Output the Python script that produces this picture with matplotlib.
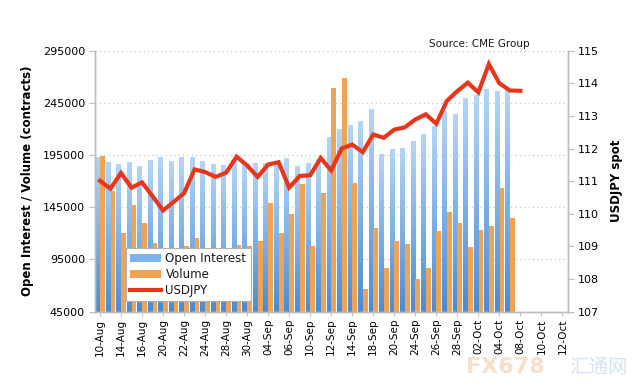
import matplotlib
matplotlib.use('Agg')
import matplotlib.pyplot as plt
import numpy as np
from matplotlib.colors import LinearSegmentedColormap
from matplotlib.patches import Patch
from matplotlib.lines import Line2D

# Colours
BLUE_TOP = '#b4d5f8'
BLUE_BOTTOM = '#4a8cd6'
ORANGE = '#f1a355'
RED = '#e8351b'
AXIS_GREY = '#bdbdbd'
GRID_GREY = '#c8c8c8'
TEXT = '#1a1a1a'

# Trading days (Labor day skipped), every one is a category
dates = ['10-Aug', '13-Aug', '14-Aug', '15-Aug', '16-Aug', '17-Aug',
         '20-Aug', '21-Aug', '22-Aug', '23-Aug', '24-Aug',
         '27-Aug', '28-Aug', '29-Aug', '30-Aug', '31-Aug',
         '04-Sep', '05-Sep', '06-Sep', '07-Sep',
         '10-Sep', '11-Sep', '12-Sep', '13-Sep', '14-Sep',
         '17-Sep', '18-Sep', '19-Sep', '20-Sep', '21-Sep',
         '24-Sep', '25-Sep', '26-Sep', '27-Sep', '28-Sep',
         '01-Oct', '02-Oct', '03-Oct', '04-Oct', '05-Oct',
         '08-Oct', '09-Oct', '10-Oct', '11-Oct', '12-Oct']

open_interest = [193000, 188500, 186300, 188000, 184400, 190200, 193400, 189500,
                 192700, 192700, 189500, 186800, 185400, 189000, 188000, 187000,
                 187600, 189500, 191800, 184700, 187000, 190800, 212000, 219700,
                 223600, 227300, 239500, 195800, 200600, 202200, 208300, 215600,
                 223000, 237600, 234100, 249800, 252700, 258500, 256500, 259700]

volume = [193800, 160500, 120600, 147600, 129800, 110600, 99000, 104400,
          107800, 115800, 96000, 93000, 90000, 108500, 107800, 112300,
          149500, 120700, 138300, 167100, 107800, 158200, 258800, 268700,
          167800, 66800, 125500, 86700, 113000, 109400, 76400, 86700,
          122200, 140200, 129900, 106800, 122900, 127400, 163600, 134700]

usdjpy = [111.01, 110.77, 111.25, 110.80, 110.96, 110.54, 110.10, 110.36,
          110.63, 111.36, 111.28, 111.13, 111.26, 111.75, 111.48, 111.13,
          111.51, 111.58, 110.80, 111.16, 111.18, 111.71, 111.33, 112.00,
          112.12, 111.89, 112.43, 112.33, 112.58, 112.65, 112.89, 113.05,
          112.76, 113.46, 113.76, 114.02, 113.72, 114.59, 114.00, 113.78,
          113.77]

left_ticks = [45000, 95000, 145000, 195000, 245000, 295000]
right_ticks = [107, 108, 109, 110, 111, 112, 113, 114, 115]

plt.rcParams['font.family'] = 'DejaVu Sans'
plt.rcParams['text.color'] = TEXT

fig = plt.figure(figsize=(6.4, 3.9), dpi=100, facecolor='white')
ax = fig.add_axes([0.148, 0.201, 0.739, 0.669])
ax2 = ax.twinx()

n = len(dates)
x_oi = np.arange(len(open_interest))
x_vol = np.arange(len(volume))
x_fx = np.arange(len(usdjpy))

ymin, ymax = left_ticks[0], left_ticks[-1]

# Open interest: bars with a vertical blue gradient
oi_bars = ax.bar(x_oi - 0.23, open_interest, width=0.43, color='none',
                 edgecolor='none', zorder=2)
cmap_blue = LinearSegmentedColormap.from_list('oi', [BLUE_BOTTOM, BLUE_TOP])
grad = np.linspace(0, 1, 64).reshape(-1, 1)
for rect in oi_bars:
    x0 = rect.get_x()
    w = rect.get_width()
    top = rect.get_y() + rect.get_height()
    im = ax.imshow(grad, extent=[x0, x0 + w, ymin, top], origin='lower',
                   aspect='auto', cmap=cmap_blue, zorder=2, interpolation='bilinear')
    im.set_clip_path(rect)

# Volume
ax.bar(x_vol + 0.24, volume, width=0.45, color=ORANGE, edgecolor='none', zorder=2)

ax.set_xlim(-0.5, n - 0.5)
ax.set_ylim(ymin, ymax)
ax.set_yticks(left_ticks)
ax.set_yticklabels([str(t) for t in left_ticks], fontsize=8)

# dotted grid at the left axis ticks
for t in left_ticks[1:]:
    ax.axhline(t, color=GRID_GREY, linestyle=(0, (1, 2.5)), linewidth=0.9, zorder=1)

ax.set_xticks(np.arange(0, n, 2))
ax.set_xticklabels(dates[::2], rotation=90, fontsize=7.5)
ax.tick_params(axis='x', length=3, color=AXIS_GREY, pad=2)
ax.tick_params(axis='y', length=4, color=AXIS_GREY, pad=3)

ax.set_ylabel('Open Interest / Volume (contracts)', fontsize=8.5,
              fontweight='bold', labelpad=6)

# USDJPY line on the right axis
ax2.plot(x_fx, usdjpy, color=RED, linewidth=3, solid_joinstyle='miter', zorder=4)
ax2.set_ylim(right_ticks[0], right_ticks[-1])
ax2.set_yticks(right_ticks)
ax2.set_yticklabels([str(t) for t in right_ticks], fontsize=8)
ax2.tick_params(axis='y', length=4, color=AXIS_GREY, pad=3)
ax2.set_ylabel('USDJPY spot', fontsize=8.5, fontweight='bold', labelpad=8)
ax2.set_xlim(-0.5, n - 0.5)

for a in (ax, ax2):
    a.spines['top'].set_visible(False)
    for s in ('left', 'right', 'bottom'):
        a.spines[s].set_color(AXIS_GREY)
        a.spines[s].set_linewidth(1.0)

handles = [Patch(facecolor='#7fb3ec', edgecolor='none'),
           Patch(facecolor=ORANGE, edgecolor='none'),
           Line2D([0], [0], color=RED, linewidth=3)]
leg = ax2.legend(handles, ['Open Interest', 'Volume', 'USDJPY'],
                 loc='lower left', bbox_to_anchor=(0.066, 0.04),
                 fontsize=8.5, frameon=True, fancybox=False, framealpha=1,
                 edgecolor='#b0b0b0', handlelength=2.6, handleheight=0.6,
                 labelspacing=0.25, borderpad=0.35, handletextpad=0.4,
                 borderaxespad=0)
leg.get_frame().set_linewidth(0.8)
leg.set_zorder(10)

fig.text(0.827, 0.887, 'Source: CME Group', fontsize=7.5, ha='right', va='center')

# faint watermark seen at the bottom right of the source image
fig.text(0.79, 0.058, 'FX678', fontsize=16, fontweight='bold', color='#f6c9a8',
         alpha=0.6, ha='center', va='center')
fig.text(0.935, 0.058, '汇通网', fontsize=14, color='#b9d3ec', alpha=0.6,
         ha='center', va='center', family=['Noto Sans CJK SC', 'DejaVu Sans'])

fig.savefig('out.png', dpi=100, facecolor='white')
